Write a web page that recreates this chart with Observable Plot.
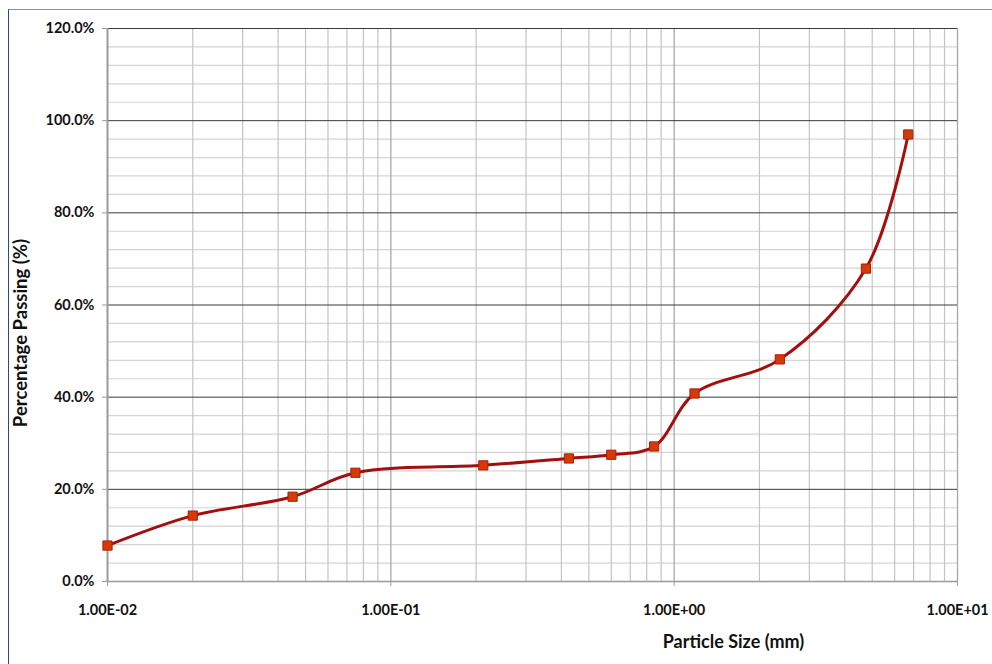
<!DOCTYPE html>
<html>
<head>
<meta charset="utf-8">
<script src="https://cdn.jsdelivr.net/npm/d3@7"></script>
<script src="https://cdn.jsdelivr.net/npm/@observablehq/plot@0.6"></script>
<style>
  html, body { margin: 0; padding: 0; background: #fff; }
  #wrap { position: relative; width: 992px; height: 664px; overflow: hidden; }
  #wrap svg { position: absolute; left: 0; top: 0; }
  #border { position: absolute; left: 8px; top: 9px; right: -2px; bottom: -2px;
            border-top: 1.5px solid #7a8fb3; border-left: 1.5px solid #2a4a86; pointer-events: none; }
</style>
</head>
<body>
<div id="wrap"><div id="border"></div></div>
<script>
// Data (particle size in mm, percentage passing)
const sizes   = [0.01, 0.02, 0.045, 0.075, 0.212, 0.425, 0.6, 0.85, 1.18, 2.36, 4.75, 6.7];
const passing = [7.8, 14.3, 18.4, 23.6, 25.2, 26.7, 27.5, 29.3, 40.8, 48.2, 67.9, 97.0];

// Axis ticks and grid values
const xMajor = [0.01, 0.1, 1, 10];
const xMinor = [0.02,0.03,0.04,0.05,0.06,0.07,0.08,0.09,
                0.2,0.3,0.4,0.5,0.6,0.7,0.8,0.9,
                2,3,4,5,6,7,8,9];
const yMajor = [0, 20, 40, 60, 80, 100, 120];
const yMinor = [4,8,12,16, 24,28,32,36, 44,48,52,56, 64,68,72,76, 84,88,92,96, 104,108,112,116];

const data = sizes.map((s, i) => ({size: s, pass: passing[i]}));

const fmtX = d => {
  const e = Math.round(Math.log10(d));
  const m = d / Math.pow(10, e);
  const sign = e < 0 ? "-" : "+";
  return m.toFixed(2) + "E" + sign + String(Math.abs(e)).padStart(2, "0");
};
const fmtY = d => d.toFixed(1) + "%";

const chart = Plot.plot({
  width: 992,
  height: 664,
  marginLeft: 107,
  marginRight: 35,
  marginTop: 28,
  marginBottom: 83,
  style: {fontFamily: "Lato, 'Open Sans', sans-serif", fontWeight: "bold", fontSize: "14.5px", color: "#000", background: "transparent"},
  x: {type: "log", domain: [0.01, 10], axis: null},
  y: {domain: [0, 120], axis: null},
  marks: [
    Plot.ruleY(yMinor, {stroke: "#d4d4d4", strokeWidth: 1.2}),
    Plot.ruleX(xMinor, {stroke: "#c4c4c4", strokeWidth: 1.2}),
    Plot.ruleX([0.1, 1, 10], {stroke: "#a8a8a8", strokeWidth: 1.3}),
    Plot.ruleY(yMajor.filter(d => d > 0), {stroke: "#3a3a3a", strokeWidth: 1}),
    // axis lines
    Plot.ruleX([0.01], {stroke: "#9a9a9a", strokeWidth: 2}),
    Plot.ruleY([0], {stroke: "#9a9a9a", strokeWidth: 1.5}),
    // axes (ticks + labels)
    Plot.axisY(yMajor, {tickSize: 5, tickFormat: fmtY, stroke: "#9a9a9a", fontSize: 14.5, fill: "#111", tickPadding: 8, label: null}),
    Plot.axisX(xMajor, {tickSize: 5, tickFormat: fmtX, stroke: "#9a9a9a", fontSize: 14.5, fill: "#111", tickPadding: 18, label: null}),
    // curve and markers
    Plot.line(data, {x: "size", y: "pass", curve: "catmull-rom", stroke: "#a30e0e", strokeWidth: 3}),
    Plot.dot(data, {x: "size", y: "pass", symbol: "square", r: 5.2, fill: "#d63a08", stroke: "#a82008", strokeWidth: 1}),
    // x-axis title
    Plot.text(["Particle Size (mm)"], {frameAnchor: "bottom", lineAnchor: "middle", dy: 61, dx: 201, text: d => d, fontSize: 18, fill: "#111"})
  ]
});
document.getElementById("wrap").insertBefore(chart, document.getElementById("border"));

// y-axis title (rotated)
d3.select(chart).append("text")
  .attr("transform", "translate(22,333) rotate(-90)")
  .attr("text-anchor", "middle")
  .attr("dominant-baseline", "middle")
  .attr("font-size", 18.5)
  .attr("font-weight", "bold")
  .attr("fill", "#111")
  .text("Percentage Passing (%)");
</script>
</body>
</html>
